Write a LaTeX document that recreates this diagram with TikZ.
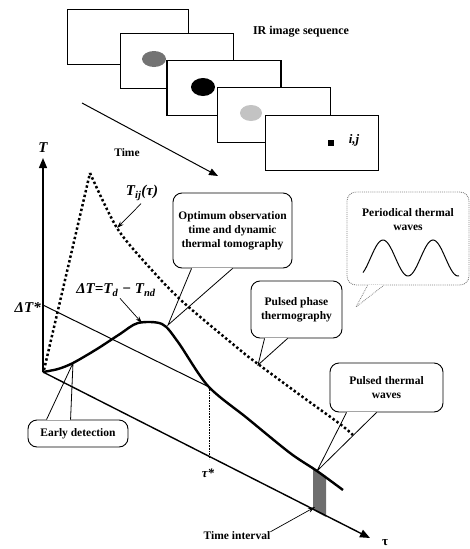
\documentclass[tikz,border=0pt]{standalone}
\usepackage{fontspec}
\setmainfont{Liberation Serif}
\usepackage{tikz}
\usetikzlibrary{arrows.meta}
\definecolor{SpotDark}{RGB}{115,115,115}
\definecolor{SpotLight}{RGB}{195,195,195}
\definecolor{ShadeGray}{RGB}{110,110,110}
\definecolor{WaveBorder}{RGB}{130,130,130}
% pointer of a speech box: [style]{anchor}{x from}{x to}{tip}
\newcommand{\callptr}[5][]{%
  \draw[white,line width=1.8pt,shorten <=0.6pt,shorten >=0.6pt]
    ([xshift=#3pt]#2) -- ([xshift=#4pt]#2);
  \draw[line width=0.8pt,#1] ([xshift=#3pt]#2) -- (#5) -- ([xshift=#4pt]#2);
}

\begin{document}
\begin{tikzpicture}[x=1pt,y=-1pt,
    txt/.style={font=\fontsize{11.5}{14}\selectfont\bfseries,align=center,inner sep=0pt},
    mathlbl/.style={font=\fontsize{15}{17}\selectfont\bfseries\itshape,inner sep=0pt},
    callbox/.style={draw,rounded corners=9pt,line width=0.9pt},
    framebox/.style={draw,fill=white,line width=1.9pt,minimum height=55pt,inner sep=0pt},
    axis/.style={line width=1.4pt,-{Triangle[length=10pt,width=8pt]}},
    dots/.style={line width=2.5pt,dash pattern=on 2.4pt off 2.4pt},
    ptr/.style={line width=0.7pt,-{Stealth[length=7pt,width=4.5pt]}}]
  \useasboundingbox (0,0) rectangle (470,549);

  % image sequence
  \foreach \i/\x/\y/\w in {1/128/37/121,2/177/61/113,3/224/88/114,4/274/115/113,5/322/143/113}
    \node[framebox,minimum width=\w pt] (frame\i) at (\x,\y) {};
  \fill[SpotDark] (154,59) ellipse [x radius=12pt,y radius=8pt];
  \fill[black] (203,87) ellipse [x radius=12pt,y radius=9pt];
  \fill[SpotLight] (251,113) ellipse [x radius=11pt,y radius=8pt];
  \fill (328,140) rectangle (334,146);
  \node[mathlbl,font=\fontsize{13}{15}\selectfont\bfseries\itshape] (ij) at (354,140) {i,j};
  \node[txt,font=\fontsize{12}{14}\selectfont\bfseries] (seq) at (301,32) {IR image sequence};

  \node[txt] (time) at (127,153) {Time};
  \coordinate (timeStart) at (82,103);
  \coordinate (timeEnd) at (218,176);
  \draw[line width=1pt,-{Triangle[length=9pt,width=7pt]}] (timeStart) -- (timeEnd);

  % speech boxes
  \node[callbox,txt,minimum width=119pt,minimum height=75pt] (opt) at (232.5,230.5)
    {Optimum observation\\time and dynamic\\thermal tomography};
  \coordinate (optTip) at (168,325);
  \callptr{opt.south west}{19}{60}{optTip}

  \node[callbox,draw=WaveBorder,densely dotted,minimum width=122pt,minimum height=93pt] (per) at (408,238.5) {};
  \node[txt] (perTxt) at (408,220) {Periodical thermal\\waves};
  \draw[line width=1pt] plot[domain=363:459,samples=60,smooth] (\x,{258-18*cos(7.2*(\x-383))});
  \coordinate (perTip) at (356,307);
  \callptr[draw=WaveBorder,densely dotted]{per.south west}{21}{37}{perTip}

  \node[callbox,txt,minimum width=91pt,minimum height=57pt] (pha) at (296.5,309.5)
    {Pulsed phase\\thermography};
  \coordinate (phaTip) at (258,365);
  \callptr{pha.south west}{14}{37}{phaTip}

  \node[callbox,txt,minimum width=113pt,minimum height=49pt] (pul) at (386.5,387.5)
    {Pulsed thermal\\waves};
  \coordinate (pulTip) at (317,471);
  \callptr{pul.south west}{17}{47}{pulTip}

  \node[callbox,txt,minimum width=100pt,minimum height=27pt] (early) at (78,433.5) {Early detection};
  \coordinate (earlyTip) at (73,363);
  \callptr{early.north west}{19}{43}{earlyTip}

  % time interval
  \fill[ShadeGray] (313,468) -- (326,476) -- (326,517) -- (313,510) -- cycle;
  \node[txt] (tint) at (237,536) {Time interval};
  \coordinate (tintTip) at (315,507);
  \draw[ptr] (tint.north east) -- (tintTip);

  % axes
  \coordinate (O) at (43,372);
  \coordinate (Ttop) at (43,158);
  \coordinate (tauEnd) at (370,538);
  \draw[axis] (O) -- (Ttop);
  \draw[axis] (O) -- (tauEnd);
  \node[mathlbl] (Tlbl) at (43,148) {T};
  \node[txt,font=\fontsize{13}{15}\selectfont\bfseries] (tauLbl) at (385,543) {τ};

  % threshold
  \node[mathlbl,anchor=east] (dTstar) at (41,308) {ΔT*};
  \coordinate (thrStart) at (43,305);
  \coordinate (tauStar) at (209,387);
  \coordinate (tauStarAx) at (209,459);
  \draw[line width=1pt] (thrStart) -- (tauStar);
  \draw[densely dotted,line width=0.6pt] (tauStar) -- (tauStarAx);
  \node[mathlbl,font=\fontsize{13}{15}\selectfont\bfseries\itshape] (tauStarLbl) at (208,473) {τ*};

  % contrast curve and temperature curve
  \draw[line width=2.4pt,line join=round] plot[smooth,tension=0.5] coordinates
    {(43,372) (58,369) (73,363) (97,349) (120,334) (138,323) (162,324) (178,342)
     (208,386) (247,418) (290,453) (317,471) (343,490)};
  \draw[dots] (44,370) -- (90,173);
  \draw[dots] plot[smooth,tension=0.5] coordinates
    {(90,173) (117,228) (150,268) (183,302) (240,350) (258,364) (300,395) (340,424) (353,435)};

  \node[mathlbl] (Tij) at (142,193) {T\textsubscript{ij}(τ)};
  \coordinate (TijTip) at (117,228);
  \draw[ptr] ([xshift=-1pt,yshift=-3pt]Tij.south) -- (TijTip);

  \node[mathlbl] (dT) at (116,290) {ΔT=T\textsubscript{d} − T\textsubscript{nd}};
  \coordinate (dTTip) at (142,323);
  \draw[ptr] ([xshift=4pt,yshift=-2pt]dT.south) -- (dTTip);
\end{tikzpicture}
\end{document}
